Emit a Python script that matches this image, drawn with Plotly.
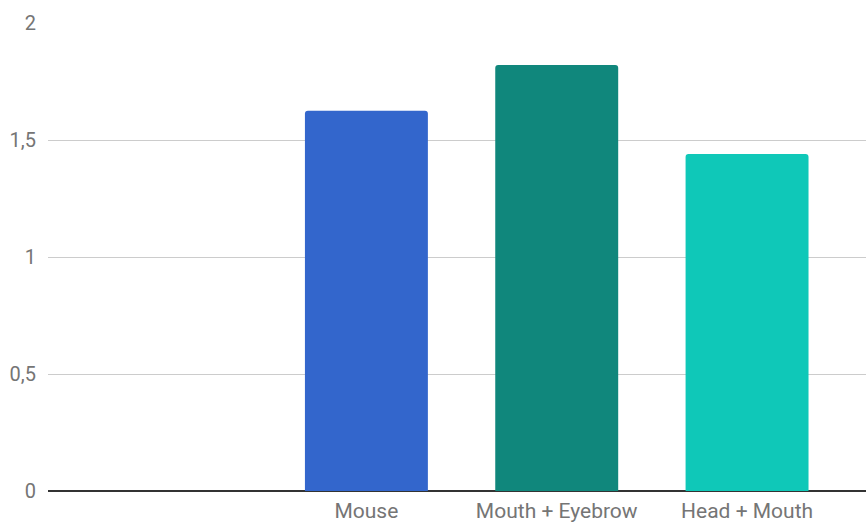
import plotly.graph_objects as go

# Average scores per input method
methods = ["Mouse", "Mouth + Eyebrow", "Head + Mouth"]
scores = [1.625, 1.82, 1.44]
bar_colors = ["#3366CC", "#10877C", "#0FC8B8"]

y_tickvals = [0, 0.5, 1, 1.5, 2]
y_ticktext = ["0", "0,5", "1", "1,5", "2"]

fig = go.Figure(
    go.Bar(
        x=methods,
        y=scores,
        marker=dict(color=bar_colors, line=dict(width=0), cornerradius=3),
        width=0.646,
        hoverinfo="x+y",
    )
)

fig.update_layout(
    width=866,
    height=525,
    margin=dict(l=48, r=0, t=23, b=34),
    plot_bgcolor="white",
    paper_bgcolor="white",
    showlegend=False,
    font=dict(family="Roboto, Arial, sans-serif", size=21, color="#757575"),
)

fig.update_xaxes(
    type="category",
    range=[-1.673, 2.625],
    automargin=False,
    showgrid=False,
    showline=False,
    zeroline=False,
    ticks="",
    ticklabelstandoff=5,
    tickfont=dict(size=21, color="#757575"),
)

fig.update_yaxes(
    range=[0, 2],
    automargin=False,
    tickvals=y_tickvals,
    ticktext=y_ticktext,
    showgrid=True,
    gridcolor="#CCCCCC",
    gridwidth=1,
    zeroline=True,
    zerolinecolor="#333333",
    zerolinewidth=2,
    showline=False,
    ticks="",
    ticklabelstandoff=11,
    tickfont=dict(size=20, color="#757575"),
)

fig.write_html("out.html")
